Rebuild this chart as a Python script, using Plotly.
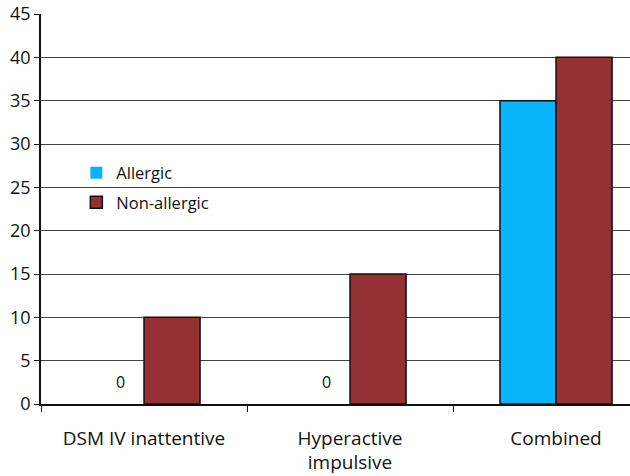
import plotly.graph_objects as go

categories = ["DSM IV inattentive", "Hyperactive<br>impulsive", "Combined"]
allergic = [0, 0, 35]
non_allergic = [10, 15, 40]
y_ticks = [0, 5, 10, 15, 20, 25, 30, 35, 40, 45]

FONT = "Open Sans"
fig = go.Figure()
fig.add_trace(go.Bar(name="Allergic", x=categories, y=allergic,
                     marker=dict(color="#0AB4FA",
                                 line=dict(color="#111111", width=[0 if v == 0 else 1.5 for v in allergic])),
                     legendgroup="a"))
fig.add_trace(go.Bar(name="Non-allergic", x=categories, y=non_allergic,
                     marker=dict(color="#953035",
                                 line=dict(color="#111111", width=[0 if v == 0 else 1.5 for v in non_allergic])),
                     legendgroup="b"))

for c, v in zip(categories, allergic):
    if v == 0:
        fig.add_annotation(x=c, y=v, text=str(v), showarrow=False, xshift=-24, yshift=22,
                           font=dict(family=FONT, size=16, color="#111"))

fig.update_layout(
    width=630, height=476,
    margin=dict(l=41, r=0, t=14, b=72),
    paper_bgcolor="white", plot_bgcolor="white",
    barmode="group", bargap=0.456, bargroupgap=0,
    font=dict(family=FONT, size=17, color="#111"),
    showlegend=True,
    legend=dict(x=0.06, y=0.637, xanchor="left", yanchor="top",
                bgcolor="rgba(0,0,0,0)", font=dict(size=16.5, family=FONT),
                tracegroupgap=5, traceorder="grouped", itemwidth=30),
    xaxis=dict(range=[-0.5, 2.359], showline=True, linecolor="#111", linewidth=1.5,
               ticks="outside", tickson="boundaries", ticklen=6, tickcolor="#111",
               showgrid=False, tickfont=dict(size=19), ticklabelstandoff=16),
    yaxis=dict(range=[0, 45], tickvals=y_ticks, showline=True, linecolor="#111", linewidth=1.5,
               ticks="outside", ticklen=5, tickcolor="#111",
               showgrid=True, gridcolor="#444", gridwidth=1.2, zeroline=False,
               tickfont=dict(size=18)),
)
fig.write_html("out.html", config={"displayModeBar": False},
               post_script="document.body.style.margin='0';document.body.style.overflow='hidden';")
